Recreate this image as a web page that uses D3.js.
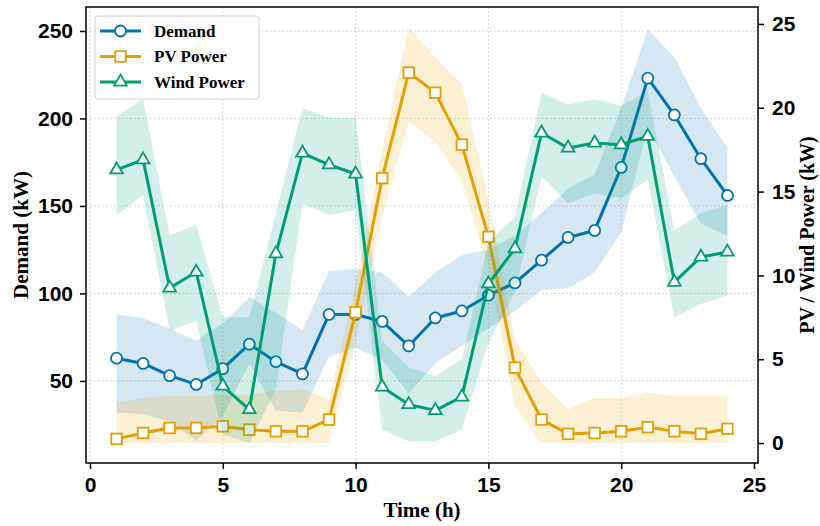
<!DOCTYPE html>
<html lang="en">
<head>
  <meta charset="UTF-8">
  <title>Demand, PV and Wind Power</title>
  <style>
    body { margin: 0; background: #fff; }
    svg { display: block; font-family: "Liberation Serif", "DejaVu Serif", serif; font-weight: bold; }
    .grid line { stroke: #c8c8c8; stroke-width: 1; stroke-dasharray: 1.5,2.5; }
    .axis path, .axis line { stroke: #000; stroke-width: 1.5; }
    .axis text { font-size: 21px; font-weight: bold; fill: #000; }
  </style>
  <script src="https://d3js.org/d3.v7.min.js"></script>
</head>
<body>
  <svg id="chart" width="820" height="526"></svg>
  <script>
    // hours of the day
    const hours = [1, 2, 3, 4, 5, 6, 7, 8, 9, 10, 11, 12, 13, 14, 15, 16, 17, 18, 19, 20, 21, 22, 23, 24];

    // demand (kW, left axis) with its band
    const demand     = [63, 60, 53, 48, 57, 71, 61, 54, 88, 88, 84, 70, 86, 90, 99, 106, 119, 132, 136, 172, 223, 202, 177, 156];
    const demandLow  = [32, 31, 27, 16, 30, 60, 33, 32, 64, 69, 62, 43, 60, 70, 80, 90, 102, 103, 112, 135, 195, 167, 140, 133];
    const demandHigh = [88, 86, 80, 73, 83, 98, 89, 79, 113, 114, 112, 98, 112, 122, 125, 133, 146, 160, 168, 206, 251, 235, 206, 183];

    // PV power (kW, right axis)
    const pv     = [0.25, 0.6, 0.9, 0.9, 1.0, 0.8, 0.7, 0.7, 1.4, 7.8, 15.8, 22.1, 20.9, 17.8, 12.3, 4.5, 1.4, 0.55, 0.6, 0.7, 0.95, 0.7, 0.55, 0.85];
    const pvLow  = [0, 0, 0, 0, 0, 0, 0, 0, 0, 6.0, 13.5, 19.2, 18.0, 15.6, 10.5, 2.2, 0, 0, 0, 0, 0, 0, 0, 0];
    const pvHigh = [2.4, 2.7, 2.8, 2.8, 2.9, 2.9, 3.1, 3.2, 2.6, 9.5, 17.5, 24.8, 23.0, 21.4, 14.5, 6.2, 3.6, 2.0, 2.7, 2.7, 3.0, 2.8, 2.8, 2.8];

    // wind power (kW, right axis)
    const wind     = [16.3, 16.9, 9.25, 10.2, 3.4, 2.0, 11.3, 17.3, 16.6, 16.05, 3.35, 2.3, 1.95, 2.75, 9.5, 11.6, 18.5, 17.6, 17.9, 17.8, 18.3, 9.6, 11.1, 11.4];
    const windLow  = [13.6, 14.8, 6.7, 7.3, 0.5, 0.0, 3.2, 14.3, 13.6, 13.9, 0.8, 0.1, 0.1, 0.8, 6.0, 9.0, 15.9, 14.3, 14.9, 14.6, 15.7, 7.5, 8.3, 8.8];
    const windHigh = [19.5, 20.5, 12.4, 13.0, 7.5, 7.5, 13.7, 20.0, 19.4, 19.4, 6.1, 4.5, 4.0, 5.0, 12.0, 13.5, 20.9, 20.2, 20.5, 20.1, 21.0, 12.7, 13.7, 14.2];

    const xTicks = [0, 5, 10, 15, 20, 25];
    const leftTicks = [50, 100, 150, 200, 250];
    const rightTicks = [0, 5, 10, 15, 20, 25];

    const svg = d3.select("#chart");
    const plotL = 86, plotR = 758, plotT = 7, plotB = 463;

    const x = d3.scaleLinear().domain([-0.15, 25.15]).range([plotL, plotR]);
    const yL = d3.scaleLinear().domain([3.1, 263.7]).range([plotB, plotT]);
    const yR = d3.scaleLinear().domain([-1.19, 26.01]).range([plotB, plotT]);

    // grid
    const grid = svg.append("g").attr("class", "grid");
    grid.selectAll(".gx").data(xTicks).enter().append("line")
      .attr("x1", d => x(d)).attr("x2", d => x(d)).attr("y1", plotT).attr("y2", plotB);
    grid.selectAll(".gy").data(leftTicks).enter().append("line")
      .attr("x1", plotL).attr("x2", plotR).attr("y1", d => yL(d)).attr("y2", d => yL(d));

    function drawSeries(vals, lo, hi, y, color, marker) {
      const rows = hours.map((h, i) => ({ h, v: vals[i], lo: lo[i], hi: hi[i] }));
      svg.append("path").datum(rows)
        .attr("fill", color).attr("fill-opacity", 0.17)
        .attr("d", d3.area().x(d => x(d.h)).y0(d => y(d.lo)).y1(d => y(d.hi)));
      svg.append("path").datum(rows)
        .attr("fill", "none").attr("stroke", color).attr("stroke-width", 3)
        .attr("stroke-linejoin", "round")
        .attr("d", d3.line().x(d => x(d.h)).y(d => y(d.v)));
      const g = svg.append("g");
      rows.forEach(d => drawMarker(g, x(d.h), y(d.v), color, marker));
    }

    function drawMarker(g, cx, cy, color, marker) {
      if (marker === "circle") {
        g.append("circle").attr("cx", cx).attr("cy", cy).attr("r", 5.5)
          .attr("fill", "#fff").attr("stroke", color).attr("stroke-width", 1.8);
      } else if (marker === "square") {
        g.append("rect").attr("x", cx - 5.3).attr("y", cy - 5.3).attr("width", 10.6).attr("height", 10.6)
          .attr("fill", "#fff").attr("stroke", color).attr("stroke-width", 1.8);
      } else {
        g.append("path").attr("transform", `translate(${cx},${cy})`)
          .attr("d", d3.symbol().type(d3.symbolTriangle).size(70)())
          .attr("fill", "#fff").attr("stroke", color).attr("stroke-width", 1.8);
      }
    }

    const blue = "#0072B2", orange = "#E69F00", green = "#009E73";
    drawSeries(demand, demandLow, demandHigh, yL, blue, "circle");
    drawSeries(pv, pvLow, pvHigh, yR, orange, "square");
    drawSeries(wind, windLow, windHigh, yR, green, "triangle");

    // axes
    svg.append("g").attr("class", "axis").attr("transform", `translate(0,${plotB})`)
      .call(d3.axisBottom(x).tickValues(xTicks).tickSize(6).tickPadding(8).tickSizeOuter(0));
    svg.append("g").attr("class", "axis").attr("transform", `translate(${plotL},0)`)
      .call(d3.axisLeft(yL).tickValues(leftTicks).tickSize(6).tickPadding(7).tickSizeOuter(0));
    svg.append("g").attr("class", "axis").attr("transform", `translate(${plotR},0)`)
      .call(d3.axisRight(yR).tickValues(rightTicks).tickSize(6).tickPadding(8).tickSizeOuter(0));
    svg.selectAll(".axis .domain").remove();

    svg.append("rect").attr("x", plotL).attr("y", plotT)
      .attr("width", plotR - plotL).attr("height", plotB - plotT)
      .attr("fill", "none").attr("stroke", "#000").attr("stroke-width", 1.5);

    // axis titles
    svg.append("text").attr("x", 422).attr("y", 517).attr("text-anchor", "middle")
      .attr("font-size", 21).text("Time (h)");
    svg.append("text").attr("transform", "translate(28,235) rotate(-90)").attr("text-anchor", "middle")
      .attr("font-size", 21).text("Demand (kW)");
    svg.append("text").attr("transform", "translate(814,235) rotate(-90)").attr("text-anchor", "middle")
      .attr("font-size", 20).text("PV / Wind Power (kW)");

    // legend
    const legendItems = [
      { name: "Demand", color: blue, marker: "circle" },
      { name: "PV Power", color: orange, marker: "square" },
      { name: "Wind Power", color: green, marker: "triangle" }
    ];
    const lg = svg.append("g");
    lg.append("rect").attr("x", 95).attr("y", 16).attr("width", 164).attr("height", 83).attr("rx", 3)
      .attr("fill", "#fff").attr("fill-opacity", 0.85).attr("stroke", "#d0d0d0").attr("stroke-width", 1);
    legendItems.forEach((it, i) => {
      const yy = 31 + i * 25.5;
      lg.append("line").attr("x1", 100).attr("x2", 141).attr("y1", yy).attr("y2", yy)
        .attr("stroke", it.color).attr("stroke-width", 3);
      drawMarker(lg, 120.5, yy, it.color, it.marker);
      lg.append("text").attr("x", 154).attr("y", yy).attr("dy", "0.35em")
        .attr("font-size", 17).text(it.name);
    });
  </script>
</body>
</html>
